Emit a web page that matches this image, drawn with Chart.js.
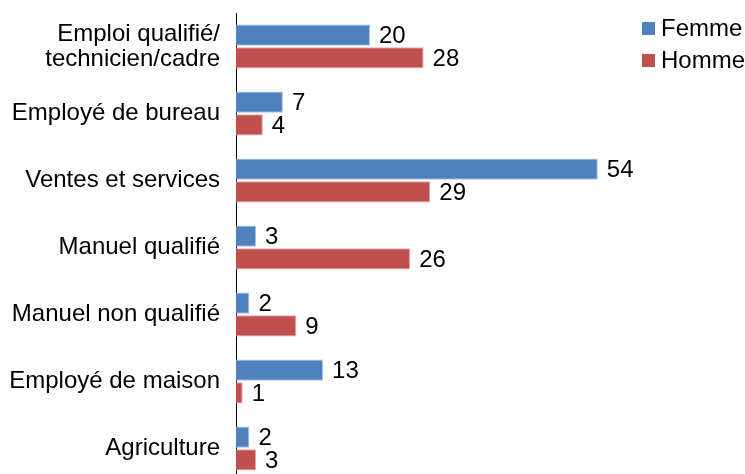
<!DOCTYPE html>
<html>
<head>
<meta charset="utf-8">
<script src="https://cdn.jsdelivr.net/npm/chart.js@4"></script>
<style>
    html, body { margin: 0; padding: 0; background: #fff; overflow: hidden; }
    canvas { display: block; }
</style>
</head>
<body>
<canvas id="chart" width="745" height="482"></canvas>
<script>
const categories = [
    ["Emploi qualifié/", "technicien/cadre"],
    "Employé de bureau",
    "Ventes et services",
    "Manuel qualifié",
    "Manuel non qualifié",
    "Employé de maison",
    "Agriculture"
];
const femmeValues = [20, 7, 54, 3, 2, 13, 2];
const hommeValues = [28, 4, 29, 26, 9, 1, 3];
const seriesNames = ["Femme", "Homme"];

const COLORS = {
    femme: "#4F81BD",
    femmeEdge: "#A9C1E0",
    homme: "#C0504D",
    hommeEdge: "#E3A8A6",
    text: "#000000"
};
const FONT = "'Liberation Sans', Arial, sans-serif";

// value labels at the end of each bar
const valueLabels = {
    id: "valueLabels",
    afterDatasetsDraw(chart) {
        const ctx = chart.ctx;
        ctx.save();
        ctx.font = `24px ${FONT}`;
        ctx.fillStyle = COLORS.text;
        ctx.textAlign = "left";
        ctx.textBaseline = "middle";
        chart.data.datasets.forEach((ds, i) => {
            chart.getDatasetMeta(i).data.forEach((bar, j) => {
                ctx.fillText(String(ds.data[j]), bar.x + 9, bar.y + 1);
            });
        });
        ctx.restore();
    }
};

// legend in the top right corner
const cornerLegend = {
    id: "cornerLegend",
    afterDraw(chart) {
        const ctx = chart.ctx;
        ctx.save();
        ctx.font = `24px ${FONT}`;
        ctx.textAlign = "left";
        ctx.textBaseline = "middle";
        const fills = [COLORS.femme, COLORS.homme];
        seriesNames.forEach((name, i) => {
            const cy = 28 + i * 32;
            ctx.fillStyle = fills[i];
            ctx.fillRect(642, cy - 6, 13, 13);
            ctx.fillStyle = COLORS.text;
            ctx.fillText(name, 661, cy + 1);
        });
        ctx.restore();
    }
};

new Chart(document.getElementById("chart").getContext("2d"), {
    type: "bar",
    data: {
        labels: categories,
        datasets: [
            {
                label: seriesNames[0],
                data: femmeValues,
                backgroundColor: COLORS.femme,
                borderColor: COLORS.femmeEdge,
                borderWidth: 1
            },
            {
                label: seriesNames[1],
                data: hommeValues,
                backgroundColor: COLORS.homme,
                borderColor: COLORS.hommeEdge,
                borderWidth: 1
            }
        ]
    },
    options: {
        indexAxis: "y",
        responsive: false,
        animation: false,
        categoryPercentage: 0.68,
        barPercentage: 0.93,
        layout: { padding: { top: 13, right: 107, bottom: 0, left: 0 } },
        plugins: {
            legend: { display: false },
            tooltip: { enabled: false }
        },
        scales: {
            x: {
                display: false,
                min: 0,
                max: 60
            },
            y: {
                afterFit: axis => {
                    axis.width = 236;
                    axis.paddingTop = 0;
                    axis.paddingBottom = 0;
                },
                ticks: {
                    color: COLORS.text,
                    font: { family: FONT, size: 24, lineHeight: 1.05 },
                    padding: 16
                },
                grid: { display: false, drawTicks: false },
                border: { display: true, color: "#000", width: 1 }
            }
        }
    },
    plugins: [valueLabels, cornerLegend]
});
</script>
</body>
</html>
